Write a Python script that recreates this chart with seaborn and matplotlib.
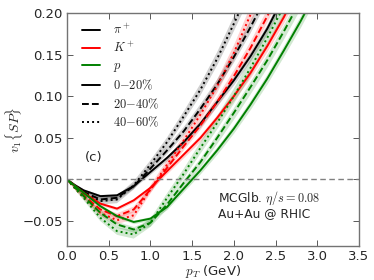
import matplotlib
matplotlib.use("Agg")
import matplotlib.pyplot as plt
from matplotlib.lines import Line2D
import seaborn as sns
import pandas as pd
import numpy as np

# ---------------- data ----------------
pT = [0.0, 0.1, 0.2, 0.4, 0.6, 0.8, 1.0, 1.2, 1.4, 1.6, 1.8, 2.0, 2.2, 2.4, 2.6, 2.8, 3.0]

pi_0_20  = [0, -0.007, -0.013, -0.020, -0.019, -0.008, 0.009, 0.026, 0.045, 0.067, 0.093, 0.119, 0.148, 0.181, 0.220, 0.260, 0.300]
pi_20_40 = [0, -0.008, -0.015, -0.024, -0.022, -0.008, 0.013, 0.035, 0.058, 0.085, 0.114, 0.147, 0.183, 0.222, 0.260, 0.300, 0.340]
pi_40_60 = [0, -0.009, -0.017, -0.026, -0.024, -0.007, 0.018, 0.045, 0.076, 0.108, 0.145, 0.187, 0.230, 0.270, 0.310, 0.350, 0.390]
K_0_20   = [0, -0.008, -0.016, -0.029, -0.035, -0.025, -0.010, 0.010, 0.030, 0.050, 0.074, 0.100, 0.128, 0.160, 0.195, 0.235, 0.275]
K_20_40  = [0, -0.010, -0.019, -0.036, -0.044, -0.036, -0.012, 0.014, 0.040, 0.065, 0.093, 0.124, 0.158, 0.196, 0.235, 0.275, 0.315]
K_40_60  = [0, -0.011, -0.021, -0.040, -0.049, -0.043, -0.012, 0.018, 0.047, 0.078, 0.112, 0.152, 0.198, 0.240, 0.280, 0.320, 0.360]
p_0_20   = [0, -0.008, -0.016, -0.032, -0.044, -0.051, -0.047, -0.033, -0.011, 0.011, 0.035, 0.061, 0.090, 0.121, 0.155, 0.190, 0.228]
p_20_40  = [0, -0.010, -0.020, -0.040, -0.054, -0.060, -0.052, -0.030, -0.004, 0.021, 0.050, 0.080, 0.111, 0.143, 0.178, 0.215, 0.250]
p_40_60  = [0, -0.011, -0.022, -0.046, -0.062, -0.066, -0.052, -0.022, 0.007, 0.038, 0.068, 0.100, 0.134, 0.170, 0.208, 0.245, 0.285]

err_0_20  = [0, 0.001, 0.0015, 0.002, 0.002, 0.002, 0.0025, 0.003, 0.0035, 0.004, 0.0045, 0.005, 0.0055, 0.006, 0.0065, 0.007, 0.0075]
err_20_40 = [0, 0.0015, 0.002, 0.003, 0.0035, 0.0035, 0.004, 0.0045, 0.005, 0.0055, 0.006, 0.007, 0.0075, 0.008, 0.0085, 0.009, 0.0095]
err_40_60 = [0, 0.002, 0.003, 0.004, 0.0045, 0.005, 0.005, 0.0055, 0.006, 0.007, 0.008, 0.009, 0.010, 0.011, 0.012, 0.013, 0.014]

particles = ["pi", "K", "p"]
particle_labels = [r"$\pi^+$", r"$K^+$", r"$p$"]
centralities = ["0-20%", "20-40%", "40-60%"]
centrality_labels = [r"$0{-}20\%$", r"$20{-}40\%$", r"$40{-}60\%$"]

series = {
    ("pi", "0-20%"): pi_0_20, ("pi", "20-40%"): pi_20_40, ("pi", "40-60%"): pi_40_60,
    ("K", "0-20%"): K_0_20, ("K", "20-40%"): K_20_40, ("K", "40-60%"): K_40_60,
    ("p", "0-20%"): p_0_20, ("p", "20-40%"): p_20_40, ("p", "40-60%"): p_40_60,
}
errors = {"0-20%": err_0_20, "20-40%": err_20_40, "40-60%": err_40_60}

rows = []
for (part, cen), vals in series.items():
    for x, v, e in zip(pT, vals, errors[cen]):
        rows.append({"pT": x, "v1": v, "err": e, "particle": part, "centrality": cen})
df = pd.DataFrame(rows)

# ---------------- style ----------------
sns.set_style("ticks")
plt.rcParams["font.family"] = ["DejaVu Sans"]
plt.rcParams["mathtext.fontset"] = "cm"
plt.rcParams["xtick.direction"] = "in"
plt.rcParams["ytick.direction"] = "in"
plt.rcParams["xtick.top"] = True
plt.rcParams["ytick.right"] = True

palette = {"pi": "black", "K": "#ff0000", "p": "#008000"}
dashes = {"0-20%": "", "20-40%": (3.5, 1.6), "40-60%": (1, 1.6)}

fig = plt.figure(figsize=(3.74, 2.80), dpi=100)
ax = fig.add_axes([0.179, 0.121, 0.781, 0.833])

for (part, cen), sub in df.groupby(["particle", "centrality"]):
    ax.fill_between(sub["pT"], sub["v1"] - sub["err"], sub["v1"] + sub["err"],
                    color=palette[part], alpha=0.18, linewidth=0)

sns.lineplot(data=df, x="pT", y="v1", hue="particle", style="centrality",
             palette=palette, dashes=dashes, hue_order=particles,
             style_order=centralities, linewidth=1.4, legend=False, ax=ax,
             estimator=None, sort=True)

ax.axhline(0, color="0.5", linestyle="--", linewidth=1.0, dashes=(4, 2.5))

ax.set_xlim(0, 3.5)
ax.set_ylim(-0.08, 0.20)
ax.set_xticks(np.arange(0, 3.51, 0.5))
ax.set_yticks([-0.05, 0.0, 0.05, 0.10, 0.15, 0.20])
ax.set_yticklabels(["\u22120.05", "0.00", "0.05", "0.10", "0.15", "0.20"])
ax.tick_params(labelsize=9.5, length=4, width=0.7, color="0.35", pad=3)
for s in ax.spines.values():
    s.set_color("0.45")
    s.set_linewidth(1.0)

ax.set_xlabel(r"$p_T$ (GeV)", fontsize=9.5, labelpad=0)
ax.set_ylabel(r"$v_1\{SP\}$", fontsize=10)
ax.yaxis.set_label_coords(-0.143, 0.5)

ax.text(0.22, 0.022, "(c)", fontsize=9.5)
ax.text(1.81, -0.0445, "MCGlb. $\\eta/s=0.08$\nAu+Au @ RHIC", fontsize=8.8,
        linespacing=1.0, va="baseline")

handles = [Line2D([], [], color=palette[p], lw=1.4) for p in particles]
handles.append(Line2D([], [], color="black", lw=1.4, linestyle="-"))
handles.append(Line2D([], [], color="black", lw=1.4, dashes=dashes["20-40%"]))
handles.append(Line2D([], [], color="black", lw=1.4, dashes=dashes["40-60%"]))
labels = particle_labels + centrality_labels
ax.legend(handles, labels, loc="upper left", frameon=False, fontsize=9,
          handlelength=1.45, handletextpad=1.1, labelspacing=0.32,
          borderaxespad=0.3, bbox_to_anchor=(0.02, 0.995))

fig.savefig("out.png", dpi=100)
